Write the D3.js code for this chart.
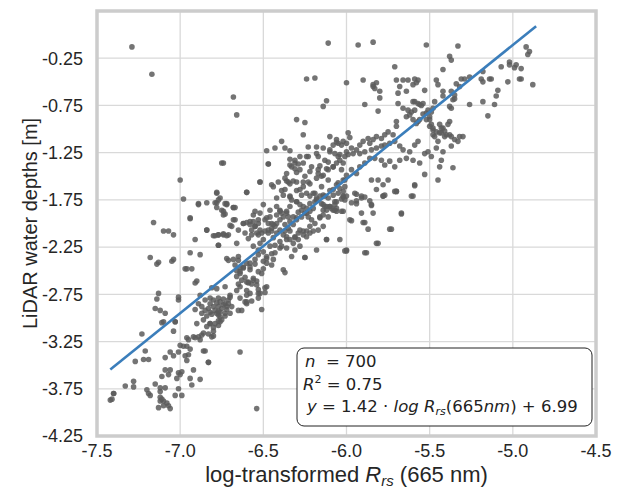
<!DOCTYPE html>
<html>
<head>
<meta charset="utf-8">
<script src="https://cdn.jsdelivr.net/npm/d3@7"></script>
<style>
  body { margin: 0; background: #fff; }
  svg text { font-family: "Liberation Sans", Arial, sans-serif; }
  .note text { font-family: "DejaVu Sans", sans-serif; }
</style>
</head>
<body>
<svg id="chart" width="622" height="490"></svg>
<script>
// axis ticks
var xTicks = [-7.5, -7.0, -6.5, -6.0, -5.5, -5.0, -4.5];
var yTicks = [-4.25, -3.75, -3.25, -2.75, -2.25, -1.75, -1.25, -0.75, -0.25];

// regression shown in the box
var fitSlope = 1.42;
var fitIntercept = 6.99;
var fitXRange = [-7.42, -4.86];
var nPoints = 700;
var rSquared = 0.75;

// log Rrs(665) vs LiDAR depth
var points = [
  // sparse top / outliers
  [-7.29,-0.13],[-7.17,-0.42],[-6.68,-0.66],[-6.66,-0.85],[-6.75,-1.36],[-7.00,-1.54],[-6.98,-1.74],[-6.89,-1.79],[-6.94,-1.95],[-7.16,-1.99],
  [-6.11,-0.09],[-5.93,-0.11],[-5.84,-0.08],[-5.52,-0.11],[-5.33,-0.12],[-5.71,-0.34],
  [-6.24,-0.47],[-6.19,-0.46],[-6.14,-0.76],[-6.12,-0.70],[-6.00,-0.51],[-5.90,-0.48],
  [-6.30,-0.90],[-6.25,-0.93],[-6.26,-1.06],
  // upper band
  [-5.84,-0.55],[-5.83,-0.57],[-5.80,-0.60],[-5.80,-0.67],[-5.84,-0.53],[-5.82,-0.51],[-5.89,-0.74],[-5.81,-0.81],
  [-5.70,-0.48],[-5.66,-0.48],[-5.63,-0.48],[-5.59,-0.47],[-5.57,-0.48],[-5.58,-0.51],[-5.60,-0.53],[-5.69,-0.62],[-5.68,-0.55],[-5.64,-0.60],
  [-5.53,-0.59],[-5.46,-0.48],[-5.45,-0.53],[-5.42,-0.65],[-5.42,-0.60],[-5.35,-0.68],[-5.34,-0.52],
  [-5.69,-0.73],[-5.66,-0.78],[-5.63,-0.80],[-5.64,-0.87],[-5.62,-0.85],[-5.59,-0.71],[-5.56,-0.74],[-5.54,-0.73],[-5.60,-0.90],[-5.57,-0.92],
  [-5.52,-0.83],[-5.50,-0.90],[-5.49,-0.95],[-5.48,-0.99],[-5.46,-1.03],[-5.48,-1.06],[-5.45,-1.13],[-5.43,-1.04],[-5.41,-1.08],[-5.42,-0.99],
  [-5.44,-0.95],[-5.39,-0.95],[-5.37,-1.08],[-5.35,-1.11],[-5.37,-1.18],[-5.42,-1.24],[-5.43,-1.33],[-5.36,-1.41],[-5.46,-1.20],[-5.49,-1.29],
  [-5.53,-1.26],[-5.57,-1.13],[-5.59,-1.17],[-5.62,-1.24],[-5.66,-1.22],[-5.68,-1.18],[-5.70,-0.92],[-5.70,-0.97],[-5.72,-1.06],[-5.75,-1.03],
  [-5.77,-1.06],[-5.79,-1.10],[-5.82,-1.08],[-5.84,-1.11],[-5.86,-1.15],[-5.87,-1.10],[-5.90,-1.13],[-5.92,-1.17],[-5.94,-1.22],[-5.97,-1.20],
  [-6.00,-1.15],[-6.02,-1.13],[-6.05,-1.15],[-6.08,-1.17],[-6.10,-1.24],[-6.07,-1.26],[-6.04,-1.27],[-5.99,-1.27],[-5.96,-1.26],[-5.92,-1.26],
  [-5.89,-1.24],[-5.85,-1.22],[-5.82,-1.20],[-5.79,-1.18],[-5.77,-1.17],[-5.74,-1.15],[-5.71,-1.13],
  [-6.23,-1.29],[-6.21,-1.40],[-6.25,-1.50],[-6.17,-1.43],[-6.15,-1.50],[-6.11,-1.54],[-6.15,-1.61],[-6.19,-1.68],[-6.22,-1.71],[-6.13,-1.71],
  [-6.08,-1.64],[-6.05,-1.57],[-6.01,-1.54],[-5.97,-1.43],[-5.94,-1.47],[-5.92,-1.40],[-5.89,-1.36],[-5.86,-1.31],[-5.83,-1.31],[-5.79,-1.33],
  [-5.77,-1.38],[-5.74,-1.34],[-5.71,-1.40],[-5.68,-1.33],[-5.64,-1.31],[-5.60,-1.33],[-5.56,-1.36],[-5.53,-1.48],[-5.45,-1.54],[-5.59,-1.59],
  [-5.70,-1.66],[-5.77,-1.70],[-5.85,-1.80],[-5.91,-1.73],[-5.95,-1.68],[-6.01,-1.75],[-6.07,-1.77],[-6.12,-1.82],[-5.81,-1.54],[-5.85,-1.54],
  [-5.78,-1.59],[-5.75,-1.54],
  // upper right
  [-5.38,-0.23],[-5.37,-0.27],[-5.42,-0.37],[-5.37,-0.60],[-5.31,-0.47],[-5.29,-0.47],[-5.26,-0.45],[-5.32,-0.55],[-5.35,-0.64],[-5.36,-0.69],
  [-5.38,-0.76],[-5.37,-0.78],[-5.19,-0.47],[-5.18,-0.50],[-5.14,-0.47],[-5.13,-0.47],[-5.18,-0.39],[-5.26,-0.74],[-5.18,-0.71],[-5.11,-0.74],
  [-5.10,-0.65],[-5.09,-0.59],[-5.15,-0.86],[-5.07,-0.34],[-5.02,-0.29],[-5.02,-0.32],[-4.98,-0.32],[-4.99,-0.35],[-4.95,-0.36],[-5.03,-0.50],
  [-4.96,-0.47],[-4.95,-0.47],[-4.88,-0.53],[-4.92,-0.13],[-4.90,-0.18],[-4.91,-0.21],[-5.38,-0.92],[-5.30,-1.08],[-5.38,-1.06],[-5.40,-1.06],
  [-5.60,-0.71],[-5.57,-0.73],[-5.55,-0.75],[-5.59,-0.80],[-5.61,-0.82],[-5.54,-0.84],[-5.51,-0.80],[-5.49,-0.82],[-5.48,-0.78],[-5.47,-0.71],
  [-5.50,-0.87],[-5.52,-0.90],[-5.56,-0.90],[-5.58,-0.94],[-5.50,-0.97],[-5.48,-1.01],[-5.43,-0.99],[-5.41,-1.02],[-5.44,-1.04],[-5.47,-1.08],
  [-5.32,-1.08],[-5.33,-1.13],[-5.51,-1.24],[-5.44,-1.40],
  // middle band
  [-6.06,-1.14],[-6.03,-1.17],[-5.99,-1.04],[-5.98,-1.09],[-6.18,-1.19],[-6.39,-1.13],[-6.48,-1.23],[-6.37,-1.20],
  [-6.34,-1.23],[-6.43,-1.20],[-6.47,-1.37],[-6.34,-1.32],[-6.31,-1.36],[-6.33,-1.40],[-6.29,-1.37],[-6.30,-1.46],[-6.32,-1.55],[-6.36,-1.55],
  [-6.52,-1.56],[-6.44,-1.61],[-6.60,-1.67],[-6.78,-1.67],[-6.76,-1.73],[-6.78,-1.78],[-6.73,-1.79],[-6.68,-1.83],[-6.84,-1.78],
  [-6.23,-1.19],[-6.24,-1.29],[-6.28,-1.29],[-6.17,-1.29],[-6.26,-1.36],[-6.14,-1.20],[-6.10,-1.22],[-6.05,-1.29],[-6.10,-1.08],[-6.06,-1.11],
  [-6.39,-1.65],[-6.38,-1.70],[-6.34,-1.72],[-6.30,-1.77],[-6.26,-1.82],[-6.22,-1.79],[-6.18,-1.75],[-6.14,-1.70],[-6.10,-1.65],[-6.06,-1.59],
  [-6.02,-1.54],[-6.00,-1.49],[-6.03,-1.43],[-6.08,-1.40],[-6.11,-1.43],[-6.14,-1.49],[-6.18,-1.52],[-6.22,-1.58],[-6.26,-1.61],[-6.30,-1.65],
  [-6.34,-1.58],[-6.37,-1.52],[-6.41,-1.56],[-6.42,-1.73],[-6.40,-1.86],[-6.36,-1.89],[-6.32,-1.93],[-6.29,-1.88],[-6.24,-1.89],[-6.21,-1.96],
  [-6.16,-1.93],[-6.14,-1.86],[-6.10,-1.82],[-6.06,-1.77],[-6.02,-1.72],
  [-6.74,-1.36],[-6.78,-1.68],[-6.77,-1.75],[-6.79,-1.78],[-6.72,-1.79],[-6.74,-1.87],[-6.73,-1.90],[-6.67,-1.83],
  [-6.84,-2.07],[-6.79,-2.13],[-6.77,-2.12],[-6.74,-2.12],[-6.72,-2.13],[-6.77,-2.23],
  [-6.68,-1.96],[-6.69,-2.03],[-6.65,-2.07],[-6.62,-2.00],[-6.58,-1.98],[-6.57,-2.07],[-6.55,-2.03],[-6.53,-1.96],[-6.56,-1.91],[-6.52,-1.89],
  [-6.53,-2.12],[-6.51,-2.10],[-6.49,-2.08],[-6.47,-2.07],[-6.45,-2.05],[-6.47,-2.00],[-6.44,-2.01],[-6.42,-2.00],[-6.40,-1.96],[-6.38,-1.93],
  [-6.35,-1.93],[-6.36,-1.87],[-6.34,-1.82],[-6.40,-1.87],[-6.42,-1.91],[-6.46,-1.93],[-6.49,-1.96],
  [-6.52,-1.56],[-6.60,-1.67],[-6.47,-1.37],[-6.45,-1.59],[-6.37,-1.64],[-6.35,-1.56],[-6.36,-1.47],[-6.34,-1.38],[-6.31,-1.33],[-6.31,-1.42],
  [-6.28,-1.43],[-6.30,-1.56],[-6.26,-1.56],[-6.23,-1.56],[-6.22,-1.45],[-6.17,-1.47],[-6.16,-1.39],[-6.13,-1.33],[-6.11,-1.35],[-6.12,-1.42],
  [-6.08,-1.40],[-6.06,-1.36],[-6.04,-1.33],[-6.02,-1.36],[-6.01,-1.29],[-6.00,-1.24],[-6.18,-1.26],[-6.28,-1.64],[-6.27,-1.70],[-6.24,-1.68],
  [-6.20,-1.68],[-6.18,-1.73],[-6.16,-1.71],[-6.19,-1.77],[-6.15,-1.79],[-6.13,-1.82],[-6.10,-1.82],[-6.08,-1.86],[-6.06,-1.84],[-6.03,-1.87],
  [-6.11,-1.73],[-6.08,-1.70],[-6.05,-1.68],[-6.04,-1.63],[-6.01,-1.61],[-6.02,-1.71],[-6.34,-1.71],[-6.33,-1.75],[-6.30,-1.77],[-6.28,-1.80],
  [-6.27,-1.86],[-6.24,-1.84],[-6.22,-1.87],[-6.23,-1.93],[-6.27,-1.93],[-6.30,-1.96],[-6.32,-2.01],[-6.35,-2.05],[-6.37,-2.08],[-6.36,-2.14],
  [-6.34,-2.17],[-6.31,-2.15],[-6.29,-2.10],[-6.26,-2.08],[-6.24,-2.14],[-6.22,-2.10],[-6.20,-2.08],[-6.17,-2.07],[-6.14,-2.03],[-6.12,-2.17],
  [-6.04,-2.17],[-6.00,-2.28],[-6.18,-2.28],[-6.25,-2.36],[-6.33,-2.35],[-6.31,-2.28],[-6.28,-2.24],[-6.40,-2.26],[-6.43,-2.31],[-6.48,-2.35],
  [-6.44,-2.38],[-6.53,-2.33],[-6.55,-2.38],[-6.58,-2.42],[-6.50,-2.40],[-6.45,-2.44],[-6.38,-2.49],[-6.62,-2.47],[-6.65,-2.35],[-6.68,-2.38],
  [-6.72,-2.37],
  // dense block from the -6.5 column
  [-6.48,-1.94],[-6.45,-2.00],[-6.43,-2.03],[-6.45,-2.08],[-6.42,-2.10],[-6.40,-2.07],[-6.38,-2.12],[-6.34,-2.08],[-6.31,-2.14],[-6.36,-2.17],
  [-6.40,-2.19],[-6.44,-2.15],[-6.47,-2.10],[-6.50,-2.17],[-6.52,-2.21],[-6.56,-2.24],[-6.53,-2.28],[-6.50,-2.30],[-6.46,-2.24],[-6.43,-2.23],
  [-6.39,-2.24],[-6.36,-2.26],[-6.32,-2.21],[-6.29,-2.17],[-6.26,-2.12],[-6.28,-2.07],[-6.24,-2.08],[-6.22,-2.03],[-6.19,-2.00],[-6.16,-1.94],
  [-6.14,-1.91],[-6.12,-1.86],[-6.09,-1.84],[-6.06,-1.87],[-6.07,-1.80],[-6.14,-1.80],[-6.20,-1.84],[-6.25,-1.89],[-6.30,-1.94],[-6.34,-1.98],
  [-6.37,-2.01],
  [-6.78,-1.83],[-6.74,-1.91],[-6.75,-1.86],[-6.72,-1.80],[-6.68,-1.83],[-6.67,-1.96],[-6.62,-2.00],[-6.70,-2.02],[-6.66,-2.21],
  [-6.60,-1.99],[-6.58,-2.01],[-6.56,-1.98],[-6.55,-2.03],[-6.53,-2.00],[-6.52,-2.07],[-6.54,-2.10],[-6.57,-2.12],[-6.59,-2.16],[-6.61,-2.10],
  [-6.55,-1.87],[-6.50,-1.80],[-6.46,-1.86],[-6.42,-1.82],[-6.39,-1.89],
  [-7.10,-2.08],[-7.07,-2.08],[-7.04,-2.12],[-7.18,-2.36],[-7.13,-2.41],[-7.04,-2.38],[-6.94,-1.94],[-6.89,-1.80],[-6.84,-2.07],[-6.91,-2.17],
  [-6.94,-2.31],[-6.88,-2.33],[-6.96,-2.48],[-6.93,-2.48],[-6.90,-2.61],[-6.80,-2.13],[-6.77,-2.12],[-6.74,-2.11],[-6.71,-2.12],[-6.77,-2.23],
  // right of the line, middle
  [-6.02,-1.66],[-6.00,-1.71],[-5.94,-1.69],[-5.91,-1.71],[-5.89,-1.72],[-5.82,-1.64],[-5.78,-1.71],[-5.70,-1.66],[-5.60,-1.71],
  [-5.97,-1.78],[-5.94,-1.79],[-5.94,-1.76],[-5.86,-1.76],[-5.85,-1.81],[-5.84,-1.89],[-5.67,-1.90],[-6.02,-1.87],
  [-5.97,-1.97],[-5.90,-1.99],[-5.87,-2.06],[-5.73,-2.06],[-5.81,-2.21],[-6.00,-2.29],[-5.88,-2.31],
  [-5.74,-2.06],[-5.98,-1.96],[-5.89,-1.99],[-5.67,-1.89],[-5.61,-1.71],[-5.59,-1.60],[-5.71,-1.66],[-5.78,-1.71],[-5.91,-1.89],[-6.03,-1.74],
  [-6.11,-1.93],[-6.07,-1.86],[-6.12,-2.17],[-6.01,-2.29],[-5.89,-2.31],[-5.82,-2.21],[-6.25,-2.36],[-6.37,-2.52],[-6.49,-2.68],
  // -6.7 .. -6.4 column
  [-6.71,-2.39],[-6.67,-2.44],[-6.65,-2.39],[-6.62,-2.46],[-6.60,-2.42],[-6.58,-2.49],[-6.64,-2.51],[-6.66,-2.56],[-6.63,-2.60],[-6.59,-2.63],
  [-6.56,-2.60],[-6.54,-2.65],[-6.53,-2.70],[-6.60,-2.71],[-6.58,-2.74],[-6.53,-2.79],[-6.57,-2.82],[-6.60,-2.62],[-6.51,-2.53],[-6.48,-2.37],
  [-6.45,-2.32],[-6.51,-2.91],[-6.52,-2.74],[-6.63,-2.92],[-6.64,-2.79],[-6.60,-2.83],
  // the blob near -6.8, -2.9
  [-7.14,-2.43],[-7.05,-2.40],[-6.97,-2.48],[-6.91,-2.63],[-6.81,-2.68],[-6.78,-2.69],[-6.73,-2.67],[-6.70,-2.76],[-6.66,-2.71],[-6.64,-2.67],
  [-6.65,-2.64],[-7.13,-2.74],[-7.14,-2.80],[-7.01,-2.78],[-7.01,-2.81],[-6.88,-2.76],[-6.85,-2.81],[-6.82,-2.79],
  [-6.80,-2.81],[-6.77,-2.79],[-6.76,-2.83],[-6.74,-2.80],[-6.71,-2.81],[-6.73,-2.85],[-6.72,-2.88],[-6.75,-2.90],[-6.77,-2.88],[-6.80,-2.88],
  [-6.82,-2.85],[-6.83,-2.90],[-6.85,-2.92],[-6.87,-2.88],[-6.89,-2.85],[-6.91,-2.91],[-6.82,-2.94],[-6.78,-2.95],[-6.77,-2.97],[-6.76,-2.94],
  [-6.73,-2.95],[-6.70,-2.95],[-6.71,-2.85],[-6.69,-2.88],[-6.70,-2.78],
  [-6.79,-2.92],[-6.81,-2.96],[-6.76,-2.99],[-6.74,-2.86],[-6.78,-2.84],[-6.72,-2.91],[-6.84,-2.98],[-6.87,-2.95],[-6.77,-2.93],[-6.73,-2.98],
  [-7.15,-2.90],[-7.12,-2.92],[-7.09,-2.95],[-7.10,-3.04],[-7.03,-3.04],[-6.90,-3.06],[-6.80,-3.10],[-6.77,-3.08],[-6.76,-3.04],[-6.75,-3.02],
  [-6.86,-3.02],[-6.82,-3.06],[-6.65,-2.92],[-6.61,-2.83],[-6.60,-2.85],[-6.53,-2.74],[-6.49,-2.73],[-6.48,-2.67],[-6.60,-2.76],
  [-6.64,-2.53],[-6.61,-2.57],[-6.59,-2.62],[-6.57,-2.64],[-6.56,-2.58],[-6.54,-2.61],[-6.58,-2.46],[-6.55,-2.43],[-6.53,-2.51],[-6.50,-2.48],
  [-6.48,-2.42],[-6.66,-2.50],[-6.64,-2.47],
  // lower left
  [-7.23,-3.17],[-7.04,-3.14],[-7.03,-3.04],[-7.11,-3.05],[-7.21,-3.35],[-7.22,-3.44],[-7.19,-3.44],[-7.27,-3.46],
  [-7.33,-3.72],[-7.28,-3.67],[-7.28,-3.73],[-7.40,-3.80],[-7.42,-3.87],[-7.20,-3.76],[-7.19,-3.80],
  [-7.15,-3.70],[-7.12,-3.74],[-7.09,-3.74],[-7.12,-3.78],[-7.12,-3.84],[-7.11,-3.86],[-7.12,-3.88],[-7.10,-3.88],[-7.08,-3.90],[-7.10,-3.93],
  [-7.07,-3.93],[-7.06,-3.96],[-7.13,-3.95],[-7.03,-3.82],[-7.01,-3.75],[-6.99,-3.82],
  [-7.09,-3.55],[-7.06,-3.55],[-7.11,-3.62],[-7.07,-3.60],[-7.01,-3.58],[-6.99,-3.57],[-7.00,-3.60],[-7.02,-3.64],
  [-7.09,-3.42],[-7.06,-3.36],[-7.04,-3.40],[-7.01,-3.36],[-6.98,-3.30],[-6.96,-3.30],[-6.94,-3.33],[-6.97,-3.40],[-6.95,-3.39],[-6.96,-3.45],
  [-7.00,-3.29],[-6.92,-3.55],[-6.94,-3.64],[-6.93,-3.71],[-6.88,-3.65],[-6.86,-3.35],[-6.83,-3.47],[-6.64,-3.36],[-6.54,-3.96],
  [-6.96,-3.21],[-6.92,-3.20],[-6.89,-3.20],[-6.87,-3.18],[-6.88,-3.23],[-6.86,-3.16],[-6.83,-3.17],[-6.80,-3.14],[-6.81,-3.20],[-6.84,-3.09],
  [-6.82,-3.06],[-6.79,-3.06],[-6.77,-3.03],[-6.91,-3.21],[-6.95,-3.23],[-6.80,-3.19],[-6.85,-3.35],[-6.83,-3.47],
  [-7.18,-3.82],[-7.41,-3.86],[-7.40,-3.80]
];

var svg = d3.select('#chart');
var x = d3.scaleLinear().domain([-7.5, -4.5]).range([97, 596]);
var y = d3.scaleLinear().domain([-4.25, 0.25]).range([436, 11]);

// grid
svg.append('g').selectAll('line.gx')
  .data(xTicks).enter().append('line')
  .attr('x1', d => x(d)).attr('x2', d => x(d))
  .attr('y1', y(0.25)).attr('y2', y(-4.25))
  .attr('stroke', '#d9d9d9').attr('stroke-width', 1.3);
svg.append('g').selectAll('line.gy')
  .data(yTicks).enter().append('line')
  .attr('x1', x(-7.5)).attr('x2', x(-4.5))
  .attr('y1', d => y(d)).attr('y2', d => y(d))
  .attr('stroke', '#d9d9d9').attr('stroke-width', 1.3);

// tick labels
svg.append('g').selectAll('text')
  .data(xTicks).enter().append('text')
  .attr('x', d => x(d)).attr('y', 457)
  .attr('text-anchor', 'middle')
  .attr('font-size', 18).attr('fill', '#262626')
  .text(d => d.toFixed(1));
svg.append('g').selectAll('text')
  .data(yTicks).enter().append('text')
  .attr('x', 83).attr('y', d => y(d))
  .attr('dy', '0.35em')
  .attr('text-anchor', 'end')
  .attr('font-size', 18).attr('fill', '#262626')
  .text(d => d.toFixed(2));

// points
svg.append('g').selectAll('circle')
  .data(points).enter().append('circle')
  .attr('cx', d => x(d[0])).attr('cy', d => y(d[1]))
  .attr('r', 2.8)
  .attr('fill', '#5c5c5c').attr('fill-opacity', 0.85);

// fit line
var line = d3.line().x(d => x(d)).y(d => y(fitSlope * d + fitIntercept));
svg.append('path')
  .attr('d', line(fitXRange))
  .attr('stroke', '#3b7ebb').attr('stroke-width', 2.6).attr('fill', 'none');

// frame
svg.append('rect')
  .attr('x', x(-7.5)).attr('y', y(0.25))
  .attr('width', x(-4.5) - x(-7.5)).attr('height', y(-4.25) - y(0.25))
  .attr('fill', 'none').attr('stroke', '#cccccc').attr('stroke-width', 3.5);

// axis titles
var xt = svg.append('text')
  .attr('x', x(-6.0)).attr('y', 482)
  .attr('text-anchor', 'middle').attr('font-size', 22).attr('fill', '#262626');
xt.append('tspan').text('log-transformed ');
xt.append('tspan').attr('font-style', 'italic').text('R');
xt.append('tspan').attr('font-style', 'italic').attr('font-size', 15).attr('dy', 4).text('rs');
xt.append('tspan').attr('dy', -4).text(' (665 nm)');

svg.append('text')
  .attr('transform', 'translate(37,' + y(-2.0) + ') rotate(-90)')
  .attr('text-anchor', 'middle').attr('font-size', 20).attr('fill', '#262626')
  .text('LiDAR water depths [m]');

// stats box
var note = svg.append('g').attr('class', 'note');
note.append('rect')
  .attr('x', 297).attr('y', 348).attr('width', 295).attr('height', 78)
  .attr('rx', 7).attr('fill', '#fff').attr('stroke', '#222').attr('stroke-width', 1);

var fs = 16.5;
var t1 = note.append('text').attr('x', 305).attr('y', 367).attr('font-size', fs).attr('fill', '#222');
t1.append('tspan').attr('font-style', 'italic').text('n');
t1.append('tspan').attr('xml:space', 'preserve').text('  = ' + nPoints);

var t2 = note.append('text').attr('x', 303).attr('y', 390).attr('font-size', fs).attr('fill', '#222');
t2.append('tspan').attr('font-style', 'italic').text('R');
t2.append('tspan').attr('font-size', 11).attr('dy', -7).text('2');
t2.append('tspan').attr('dy', 7).text(' = ' + rSquared.toFixed(2));

var t3 = note.append('text').attr('x', 307).attr('y', 412).attr('font-size', fs).attr('fill', '#222');
t3.append('tspan').attr('font-style', 'italic').text('y');
t3.append('tspan').text('  = ' + fitSlope.toFixed(2) + ' \u00b7 ');
t3.append('tspan').attr('font-style', 'italic').text('log R');
t3.append('tspan').attr('font-style', 'italic').attr('font-size', 11).attr('dy', 3).text('rs');
t3.append('tspan').attr('dy', -3).text('(665');
t3.append('tspan').attr('font-style', 'italic').text('nm');
t3.append('tspan').text(') + ' + fitIntercept.toFixed(2));
</script>
</body>
</html>
